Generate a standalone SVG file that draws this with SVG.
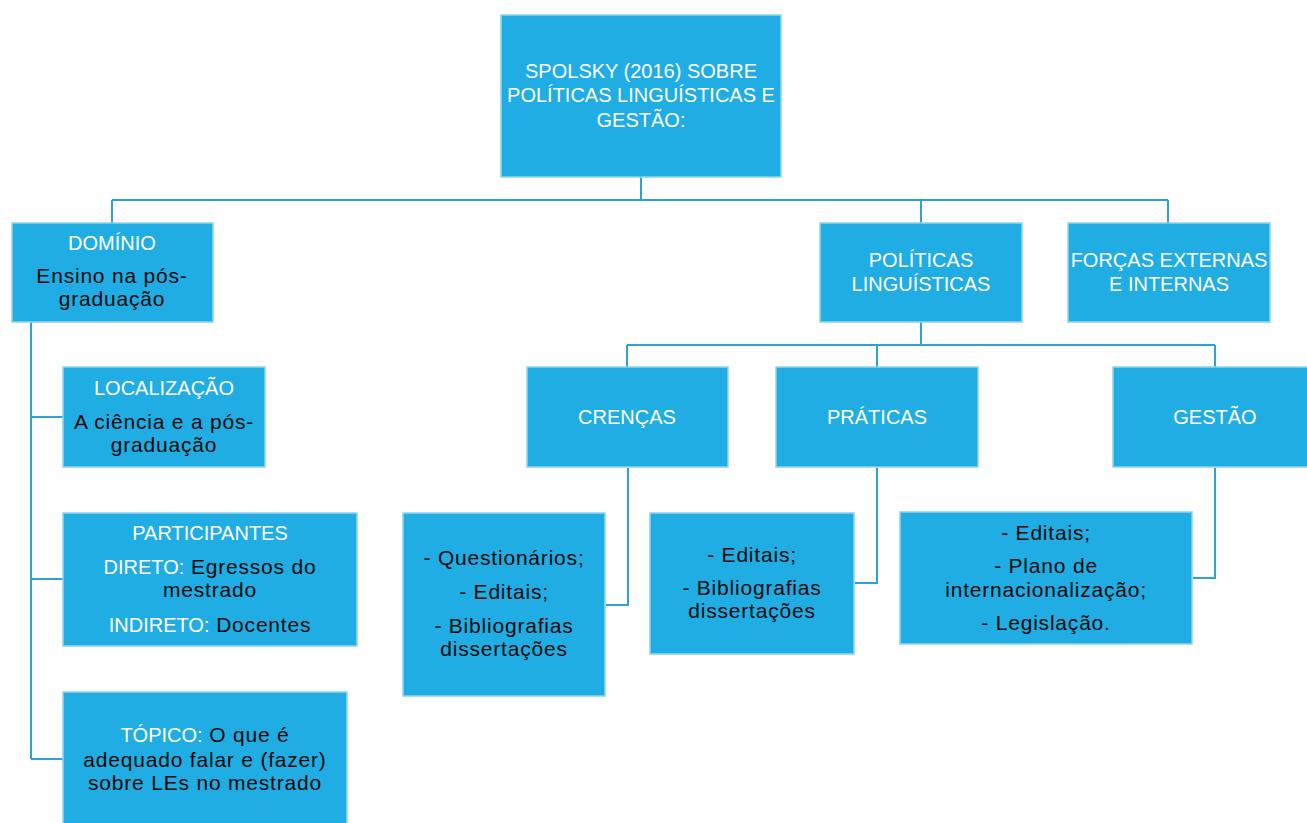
<svg xmlns="http://www.w3.org/2000/svg" width="1307" height="823" viewBox="0 0 1307 823">
<style>
.box{fill:#1fade3;stroke:#8fd4f0;stroke-width:1.5}
.t{font-family:"Liberation Sans",Arial,sans-serif;font-size:20px;text-anchor:middle}
.w{fill:#ffffff}
.k{fill:#0a0a0a}
.b{font-size:21px;letter-spacing:0.8px}
.c{fill:none;stroke:#2ba3d8;stroke-width:2}
</style>
<rect width="1307" height="823" fill="#ffffff"/>
<g id="connectors">
<path class="c" d="M641 177V200M112 200H1168M112 200V223M921 200V223M1168 200V223"/>
<path class="c" d="M31 322V759M31 417H63M31 579H63M31 759H63"/>
<path class="c" d="M921 322V345M627 345H1215M627 345V367M877 345V367M1215 345V367"/>
<path class="c" d="M628 468V605H606"/>
<path class="c" d="M877 468V583H855"/>
<path class="c" d="M1215 468V578H1193"/>
</g>
<g id="root">
<rect class="box" x="501" y="15" width="280" height="162"/>
<text class="t w" x="641" y="78">SPOLSKY (2016) SOBRE</text>
<text class="t w" x="641" y="102">POLÍTICAS LINGUÍSTICAS E</text>
<text class="t w" x="641" y="127">GESTÃO:</text>
</g>
<g id="dominio">
<rect class="box" x="12" y="223" width="201" height="99"/>
<text class="t w" x="112" y="250">DOMÍNIO</text>
<text class="t k b" x="112" y="283">Ensino na pós-</text>
<text class="t k b" x="112" y="306">graduação</text>
</g>
<g id="localizacao">
<rect class="box" x="63" y="367" width="202" height="100"/>
<text class="t w" x="164" y="395">LOCALIZAÇÃO</text>
<text class="t k b" x="164" y="429">A ciência e a pós-</text>
<text class="t k b" x="164" y="452">graduação</text>
</g>
<g id="participantes">
<rect class="box" x="63" y="513" width="294" height="133"/>
<text class="t w" x="210" y="540">PARTICIPANTES</text>
<text class="t" x="210" y="574"><tspan class="w">DIRETO:</tspan><tspan class="k b"> Egressos do</tspan></text>
<text class="t k b" x="210" y="597">mestrado</text>
<text class="t" x="210" y="632"><tspan class="w">INDIRETO:</tspan><tspan class="k b"> Docentes</tspan></text>
</g>
<g id="topico">
<rect class="box" x="63" y="692" width="284" height="140"/>
<text class="t" x="205" y="742"><tspan class="w">TÓPICO:</tspan><tspan class="k b"> O que é</tspan></text>
<text class="t k b" x="205" y="767">adequado falar e (fazer)</text>
<text class="t k b" x="205" y="790">sobre LEs no mestrado</text>
</g>
<g id="politicas">
<rect class="box" x="820" y="223" width="202" height="99"/>
<text class="t w" x="921" y="267">POLÍTICAS</text>
<text class="t w" x="921" y="291">LINGUÍSTICAS</text>
</g>
<g id="forcas">
<rect class="box" x="1068" y="223" width="202" height="99"/>
<text class="t w" x="1169" y="267">FORÇAS EXTERNAS</text>
<text class="t w" x="1169" y="291">E INTERNAS</text>
</g>
<g id="crencas">
<rect class="box" x="527" y="367" width="201" height="100"/>
<text class="t w" x="627" y="424">CRENÇAS</text>
</g>
<g id="praticas">
<rect class="box" x="776" y="367" width="202" height="100"/>
<text class="t w" x="877" y="424">PRÁTICAS</text>
</g>
<g id="gestao">
<rect class="box" x="1113" y="367" width="200" height="100"/>
<text class="t w" x="1215" y="424">GESTÃO</text>
</g>
<g id="crencas-itens">
<rect class="box" x="403" y="513" width="202" height="183"/>
<text class="t k b" x="504" y="565">- Questionários;</text>
<text class="t k b" x="504" y="599">- Editais;</text>
<text class="t k b" x="504" y="633">- Bibliografias</text>
<text class="t k b" x="504" y="656">dissertações</text>
</g>
<g id="praticas-itens">
<rect class="box" x="650" y="513" width="204" height="141"/>
<text class="t k b" x="752" y="562">- Editais;</text>
<text class="t k b" x="752" y="595">- Bibliografias</text>
<text class="t k b" x="752" y="618">dissertações</text>
</g>
<g id="gestao-itens">
<rect class="box" x="900" y="512" width="292" height="132"/>
<text class="t k b" x="1046" y="540">- Editais;</text>
<text class="t k b" x="1046" y="573">- Plano de</text>
<text class="t k b" x="1046" y="597">internacionalização;</text>
<text class="t k b" x="1046" y="630">- Legislação.</text>
</g>
</svg>
